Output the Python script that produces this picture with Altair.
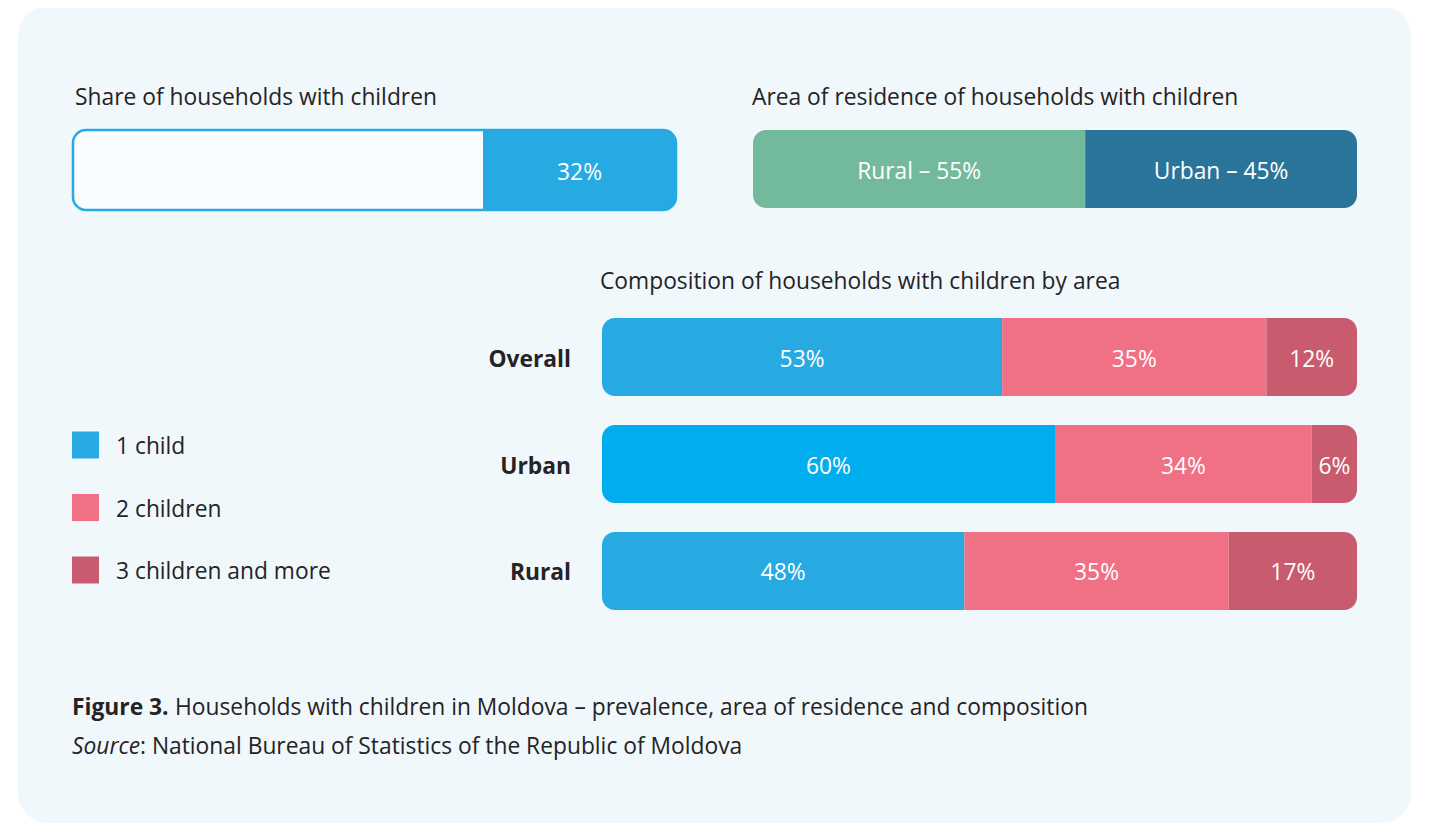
import altair as alt
import pandas as pd

# ---------------- data ----------------
share_label = "Share of households with children"
share_value = 32

area_title = "Area of residence of households with children"
area_names = ["Rural", "Urban"]
area_values = [55, 45]

comp_title = "Composition of households with children by area"
comp_areas = ["Overall", "Urban", "Rural"]
one_child = [53, 60, 48]
two_children = [35, 34, 35]
three_more = [12, 6, 17]
categories = ["1 child", "2 children", "3 children and more"]

caption_bold = "Figure 3."
caption_text = "Households with children in Moldova – prevalence, area of residence and composition"
source_italic = "Source"
source_text = ": National Bureau of Statistics of the Republic of Moldova"

# ---------------- styles ----------------
FONT = "Open Sans"
TEXT = "#262324"
BLUE = "#27a9e1"
BLUE_BRIGHT = "#00aeef"
PINK = "#f07086"
DPINK = "#c85c6e"
GREEN = "#73b99b"
TEAL = "#2b7499"
PANEL = "#f0f8fc"
CAT_COLORS = [BLUE, PINK, DPINK]
R = 13
FS = 22.8

W, H = 1413, 816

# ---------------- tables ----------------
share_base = pd.DataFrame({"row": ["share"], "start": [0], "end": [100]})
share_seg = pd.DataFrame({"row": ["share"], "start": [100 - share_value], "end": [100],
                          "mid": [100 - share_value / 2], "label": [f"{share_value}%"]})

a_start, acc = [], 0
for v in area_values:
    a_start.append(acc)
    acc += v
area_df = pd.DataFrame({"row": ["area"] * len(area_names), "name": area_names,
                        "start": a_start, "end": [s + v for s, v in zip(a_start, area_values)],
                        "mid": [s + v / 2 for s, v in zip(a_start, area_values)],
                        "label": [f"{n} – {v}%" for n, v in zip(area_names, area_values)]})

rows = []
for i, a in enumerate(comp_areas):
    acc = 0
    for j, (c, vals) in enumerate(zip(categories, [one_child, two_children, three_more])):
        v = vals[i]
        rows.append({"area": a, "cat": c, "idx": j, "start": acc, "end": acc + v,
                     "mid": acc + v / 2, "label": f"{v}%"})
        acc += v
comp_df = pd.DataFrame(rows)
legend_df = pd.DataFrame({"cat": categories})


def xsc(r0, r1):
    return alt.Scale(domain=[0, 100], range=[r0, r1])


def ysc(domain, r0, r1, pad=0.0):
    return alt.Scale(type="band", domain=domain, range=[r0, r1], paddingInner=pad, paddingOuter=0)


# ---------------- layers ----------------
one = alt.Data(values=[{}])

panel = alt.Chart(one).mark_rect(cornerRadius=30, color=PANEL).encode(
    x=alt.value(10), x2=alt.value(1403), y=alt.value(-2), y2=alt.value(815))


def title_text(txt, x, y, weight="normal", style="normal"):
    return alt.Chart(one).mark_text(text=txt, align="left", baseline="middle", font=FONT,
                                    fontSize=FS, color=TEXT, fontWeight=weight,
                                    fontStyle=style).encode(x=alt.value(x), y=alt.value(y))


def label_mark(**kw):
    base = dict(font=FONT, fontSize=FS, baseline="middle", dy=2.5)
    base.update(kw)
    return base


# share bar
SX = xsc(65, 668)
SY = ysc(["share"], 122, 202)
share_bg = alt.Chart(share_base).mark_bar(cornerRadius=R, fill="#fafdff", stroke=BLUE,
                                          strokeWidth=2.5).encode(
    x=alt.X("start:Q", scale=SX, axis=None), x2="end:Q",
    y=alt.Y("row:N", scale=SY, axis=None))
share_fg = alt.Chart(share_seg).mark_bar(cornerRadiusTopRight=R, cornerRadiusBottomRight=R,
                                         color=BLUE).encode(
    x=alt.X("start:Q", scale=SX, axis=None), x2="end:Q",
    y=alt.Y("row:N", scale=SY, axis=None))
share_txt = alt.Chart(share_seg).mark_text(**label_mark(color="white")).encode(
    x=alt.X("mid:Q", scale=SX, axis=None),
    y=alt.Y("row:N", scale=SY, axis=None), text="label:N")

# area bar
AX = xsc(745, 1349)
AY = ysc(["area"], 122, 200)
acolor = alt.Color("name:N", scale=alt.Scale(domain=area_names, range=[GREEN, TEAL]), legend=None)
area_l = alt.Chart(area_df).transform_filter(alt.datum.start == 0).mark_bar(
    cornerRadiusTopLeft=R, cornerRadiusBottomLeft=R).encode(
    x=alt.X("start:Q", scale=AX, axis=None), x2="end:Q",
    y=alt.Y("row:N", scale=AY, axis=None), color=acolor)
area_r = alt.Chart(area_df).transform_filter(alt.datum.start > 0).mark_bar(
    cornerRadiusTopRight=R, cornerRadiusBottomRight=R).encode(
    x=alt.X("start:Q", scale=AX, axis=None), x2="end:Q",
    y=alt.Y("row:N", scale=AY, axis=None), color=acolor)
area_txt = alt.Chart(area_df).mark_text(**label_mark(color="white")).encode(
    x=alt.X("mid:Q", scale=AX, axis=None),
    y=alt.Y("row:N", scale=AY, axis=None), text="label:N")

# composition bars
CX = xsc(594, 1349)
CY = ysc(comp_areas, 310, 602, 0.271)
ccolor = alt.Color("cat:N", scale=alt.Scale(domain=categories, range=CAT_COLORS), legend=None)
comp_first = alt.Chart(comp_df).transform_filter(alt.datum.idx == 0).mark_bar(
    cornerRadiusTopLeft=R, cornerRadiusBottomLeft=R).encode(
    x=alt.X("start:Q", scale=CX, axis=None), x2="end:Q",
    y=alt.Y("area:N", scale=CY, axis=None),
    color=alt.condition(alt.datum.area == "Urban", alt.value(BLUE_BRIGHT), alt.value(BLUE)))
comp_mid = alt.Chart(comp_df).transform_filter(alt.datum.idx == 1).mark_bar().encode(
    x=alt.X("start:Q", scale=CX, axis=None), x2="end:Q",
    y=alt.Y("area:N", scale=CY, axis=None), color=ccolor)
comp_last = alt.Chart(comp_df).transform_filter(alt.datum.idx == 2).mark_bar(
    cornerRadiusTopRight=R, cornerRadiusBottomRight=R).encode(
    x=alt.X("start:Q", scale=CX, axis=None), x2="end:Q",
    y=alt.Y("area:N", scale=CY, axis=None), color=ccolor)
comp_txt = alt.Chart(comp_df).mark_text(**label_mark(color="white")).encode(
    x=alt.X("mid:Q", scale=CX, axis=None),
    y=alt.Y("area:N", scale=CY, axis=None), text="label:N")
comp_rows = alt.Chart(pd.DataFrame({"area": comp_areas})).mark_text(
    **label_mark(fontWeight="bold", color=TEXT, align="right")).encode(
    x=alt.value(563), y=alt.Y("area:N", scale=CY, axis=None), text="area:N")

# legend
LY = alt.Scale(domain=categories, range=[437, 562], padding=0)
leg_sq = alt.Chart(legend_df).mark_square(size=729, opacity=1).encode(
    x=alt.value(77.5), y=alt.Y("cat:N", scale=LY, axis=None), color=ccolor)
leg_txt = alt.Chart(legend_df).mark_text(**label_mark(color=TEXT, align="left", dy=2)).encode(
    x=alt.value(108), y=alt.Y("cat:N", scale=LY, axis=None), text="cat:N")

layers = [
    panel,
    title_text(share_label, 67, 90),
    title_text(area_title, 744, 90),
    title_text(comp_title, 592, 274),
    share_bg, share_fg, share_txt,
    area_l, area_r, area_txt,
    comp_first, comp_mid, comp_last, comp_txt, comp_rows,
    leg_sq, leg_txt,
    title_text(caption_bold, 64, 700, weight="bold"),
    title_text(caption_text, 167, 700),
    title_text(source_italic, 64, 739, style="italic"),
    title_text(source_text, 132, 739),
]

chart = alt.layer(*layers).resolve_scale(
    x="independent", y="independent", color="independent"
).properties(
    width=W, height=H, padding=0, background="#ffffff",
    autosize=alt.AutoSizeParams(type="none"),
).configure_view(strokeWidth=0)

chart.save("out.html", embed_options={"renderer": "svg", "actions": False})
